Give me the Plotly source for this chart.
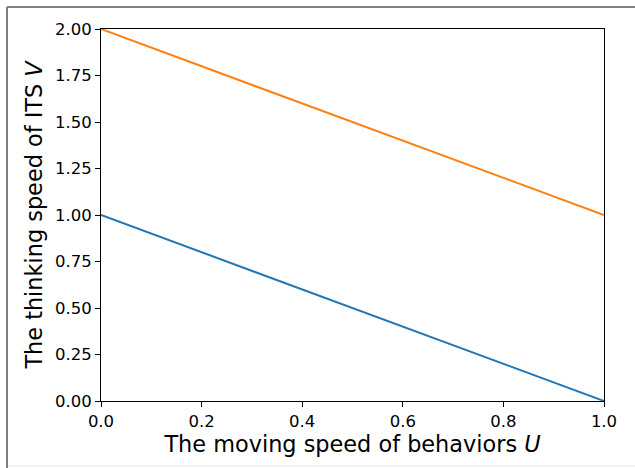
import plotly.graph_objects as go

u = [0.0, 1.0]
v_lower = [1.0, 0.0]
v_upper = [2.0, 1.0]
x_ticks = [0.0, 0.2, 0.4, 0.6, 0.8, 1.0]
y_ticks = [0.0, 0.25, 0.5, 0.75, 1.0, 1.25, 1.5, 1.75, 2.0]

fig = go.Figure()
fig.add_trace(go.Scatter(x=u, y=v_lower, mode="lines",
                         line=dict(color="#1f77b4", width=2), showlegend=False))
fig.add_trace(go.Scatter(x=u, y=v_upper, mode="lines",
                         line=dict(color="#ff7f0e", width=2), showlegend=False))

W, H = 635, 468
L, R, T, B = 101, 31, 29, 67
pw, ph = W - L - R, H - T - B

axis_common = dict(showgrid=False, zeroline=False, showline=True, mirror=True,
                   linecolor="black", linewidth=1, ticks="outside", ticklen=5,
                   tickwidth=1, tickcolor="black",
                   tickfont=dict(family="DejaVu Sans", size=16.5, color="black"))

fig.update_xaxes(range=[0, 1], tickvals=x_ticks,
                 ticktext=[f"{t:.1f}" for t in x_ticks],
                 title=dict(text="The moving speed of behaviors <i>U</i>",
                            font=dict(family="DejaVu Sans", size=22.4, color="black"),
                            standoff=3),
                 **axis_common)
fig.update_yaxes(range=[0, 2], tickvals=y_ticks,
                 ticktext=[f"{t:.2f}" for t in y_ticks],
                 title=dict(text="The thinking speed of ITS <i>V</i>",
                            font=dict(family="DejaVu Sans", size=22.4, color="black"),
                            standoff=6),
                 **axis_common)

def px_x(p):
    return (p - L) / pw

def px_y(p):
    return (H - B - p) / ph

shapes = [
    dict(type="line", xref="paper", yref="paper", x0=px_x(7), x1=px_x(640),
         y0=px_y(7), y1=px_y(7), line=dict(color="#808080", width=2), layer="above"),
    dict(type="line", xref="paper", yref="paper", x0=px_x(7), x1=px_x(7),
         y0=px_y(7), y1=px_y(470), line=dict(color="#808080", width=2), layer="above"),
    dict(type="line", xref="paper", yref="paper", x0=px_x(8), x1=px_x(640),
         y0=px_y(466), y1=px_y(466), line=dict(color="#e6e6e6", width=1), layer="above"),
]

fig.update_layout(width=W, height=H, margin=dict(l=L, r=R, t=T, b=B),
                  plot_bgcolor="white", paper_bgcolor="white", shapes=shapes,
                  font=dict(family="DejaVu Sans", color="black"))

fig.write_html("out.html", config={"displayModeBar": False},
               post_script="document.body.style.margin='0';document.body.style.overflow='hidden';")
